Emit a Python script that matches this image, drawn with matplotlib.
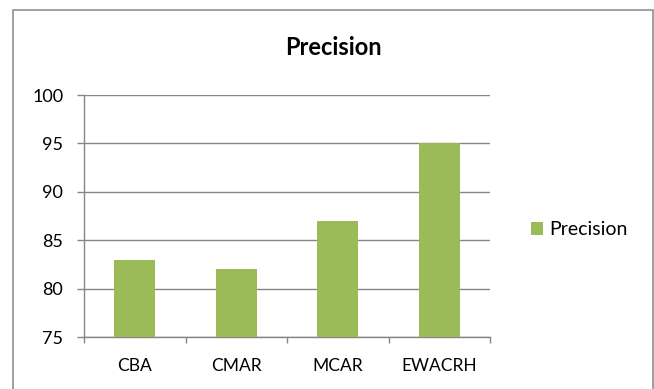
import matplotlib
matplotlib.use("Agg")
import matplotlib.pyplot as plt
from matplotlib.patches import Patch, Rectangle

categories = ["CBA", "CMAR", "MCAR", "EWACRH"]
precision = [83, 82, 87, 95]
y_ticks = [75, 80, 85, 90, 95, 100]
series_name = "Precision"

plt.rcParams["font.family"] = ["Lato", "DejaVu Sans"]

GRAY = "#868686"
GREEN = "#9BBB59"
W, H = 654, 389

fig = plt.figure(figsize=(W / 100, H / 100), dpi=100)

# outer chart frame
fig.patches.append(Rectangle((13 / W, -0.05), (652.5 - 13) / W, 1.05 - 10 / H,
                             transform=fig.transFigure, fill=False,
                             edgecolor=GRAY, linewidth=1.1, clip_on=False))

ax = fig.add_axes([84 / W, 1 - 337 / H, 406 / W, 242 / H])
x = range(len(categories))
ax.bar(x, [v - y_ticks[0] for v in precision], bottom=y_ticks[0],
       width=0.4, color=GREEN, zorder=3)

ax.set_xlim(-0.5, len(categories) - 0.5)
ax.set_ylim(y_ticks[0], y_ticks[-1])
ax.set_yticks(y_ticks)
ax.yaxis.grid(True, color=GRAY, linewidth=1.0)
ax.set_axisbelow(True)

ax.set_xticks(list(x))
ax.set_xticklabels(categories)
ax.set_xticks([i - 0.5 for i in range(len(categories) + 1)], minor=True)

for side in ("top", "right"):
    ax.spines[side].set_visible(False)
for side in ("left", "bottom"):
    ax.spines[side].set_color(GRAY)
    ax.spines[side].set_linewidth(1.0)

ax.tick_params(axis="y", direction="out", length=5, width=1.0, color=GRAY,
               pad=10, labelsize=13, labelcolor="black")
ax.tick_params(axis="x", which="major", length=0, pad=15,
               labelsize=12.5, labelcolor="black")
ax.tick_params(axis="x", which="minor", direction="out", length=4,
               width=1.0, color=GRAY)

fig.text(333.5 / W, 1 - 47.5 / H, "Precision", ha="center", va="center",
         fontsize=17, fontweight="bold")

fig.legend(handles=[Patch(facecolor=GREEN, edgecolor="none", label=series_name)],
           loc="center left", bbox_to_anchor=(531 / W, 1 - 230 / H),
           frameon=False, fontsize=14, handlelength=0.62, handleheight=0.62,
           handletextpad=0.3, borderpad=0, borderaxespad=0)

fig.savefig("out.png", dpi=100, facecolor="white")
